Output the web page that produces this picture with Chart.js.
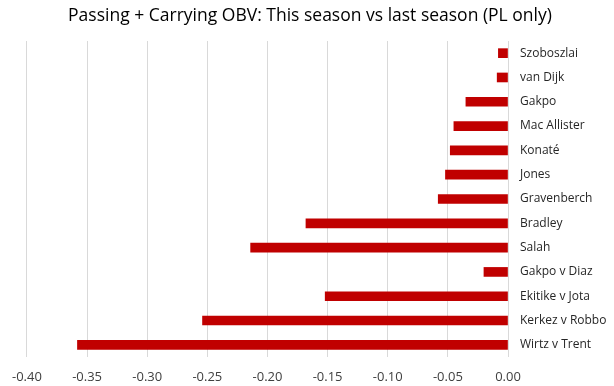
<!DOCTYPE html>
<html>
<head>
<meta charset="utf-8">
<script src="https://cdn.jsdelivr.net/npm/chart.js@4"></script>
<style>
  html, body { margin: 0; padding: 0; background: #fff; }
  #wrap { width: 614px; height: 386px; }
</style>
</head>
<body>
<div id="wrap"><canvas id="obvChart"></canvas></div>
<script>
// Data
const players = ['Szoboszlai', 'van Dijk', 'Gakpo', 'Mac Allister', 'Konaté', 'Jones', 'Gravenberch',
  'Bradley', 'Salah', 'Gakpo v Diaz', 'Ekitike v Jota', 'Kerkez v Robbo', 'Wirtz v Trent'];
const obvChange = [-0.008, -0.009, -0.035, -0.045, -0.048, -0.052, -0.058,
  -0.168, -0.214, -0.020, -0.152, -0.254, -0.358];
const xTicks = [-0.40, -0.35, -0.30, -0.25, -0.20, -0.15, -0.10, -0.05, 0.00];

const ctx = document.getElementById('obvChart').getContext('2d');
new Chart(ctx, {
  type: 'bar',
  data: {
    labels: players,
    datasets: [{
      data: obvChange,
      backgroundColor: '#C00000',
      barThickness: 9,
    }]
  },
  options: {
    indexAxis: 'y',
    responsive: true,
    maintainAspectRatio: false,
    animation: false,
    layout: { padding: { left: 10, right: 4, top: 0, bottom: 0 } },
    plugins: {
      legend: { display: false },
      tooltip: { enabled: false },
      title: {
        display: true,
        text: 'Passing + Carrying OBV: This season vs last season (PL only)',
        color: '#000',
        font: { family: 'Open Sans', size: 17.5, weight: 'normal' },
        padding: { top: 6, bottom: 14 },
      },
    },
    scales: {
      x: {
        min: -0.40,
        max: 0,
        afterBuildTicks: function (scale) {
          scale.ticks = xTicks.map(v => ({ value: v }));
        },
        afterFit: function (scale) { scale.height = 29; },
        ticks: {
          color: '#404040',
          padding: 12,
          font: { family: 'Open Sans', size: 13 },
          callback: v => Number(v).toFixed(2),
        },
        grid: { color: '#d9d9d9', lineWidth: 1, drawTicks: false },
        border: { display: false },
      },
      y: {
        position: 'right',
        afterFit: function (scale) { scale.width = 102; },
        ticks: {
          color: '#262626',
          padding: 12,
          font: { family: 'Open Sans', size: 12 },
        },
        grid: { display: false, drawTicks: false },
        border: { display: false },
      },
    },
  },
});
</script>
</body>
</html>
